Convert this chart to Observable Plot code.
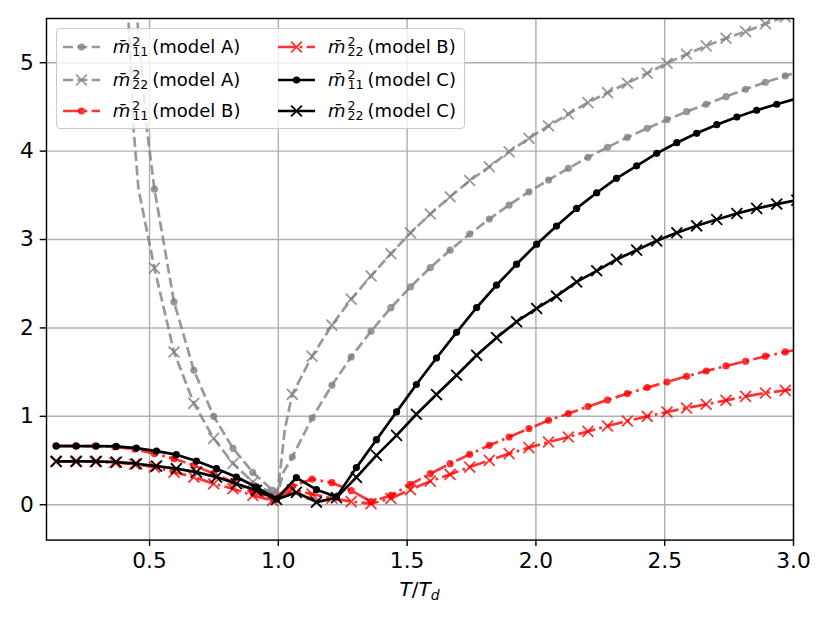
<!DOCTYPE html>
<html>
<head>
<meta charset="utf-8">
<script src="https://cdn.jsdelivr.net/npm/d3@7"></script>
<script src="https://cdn.jsdelivr.net/npm/@observablehq/plot@0.6"></script>
<style>
  body { margin: 0; background: #fff; }
  #wrap { position: relative; width: 830px; height: 623px; font-family: "DejaVu Sans", sans-serif; color: #000; }
  #legend { position: absolute; left: 56px; top: 28px; width: 409px; height: 101px; box-sizing: border-box;
            border: 1px solid #cccccc; border-radius: 4px; background: rgba(255,255,255,0.8); }
  .entry { position: absolute; height: 24px; display: flex; align-items: center; font-size: 18px; white-space: nowrap; }
  .entry svg { flex: none; }
  .lab { margin-left: 13px; line-height: 18px; }
  .mi { font-style: italic; }
  .ss { display: inline-block; font-size: 12.6px; line-height: 10px; vertical-align: -3.3px; margin: 0 4px 0 2px; white-space: pre; }
  #xlabel { position: absolute; left: 319.5px; width: 200px; top: 579px; text-align: center; font-size: 20px; line-height: 20px; }
  #xlabel sub { font-size: 14px; vertical-align: -3.5px; line-height: 0; }
</style>
</head>
<body>
<div id="wrap"></div>
<script>
// ---------- data ----------
// temperature grid of model C (T/Td)
const xC = [0.138, 0.216, 0.293, 0.371, 0.449, 0.527, 0.604, 0.682, 0.760, 0.837, 0.915, 0.993,
            1.070, 1.148, 1.226, 1.303, 1.381, 1.459, 1.536, 1.614, 1.692, 1.770, 1.847, 1.925,
            2.003, 2.080, 2.158, 2.236, 2.313, 2.391, 2.469, 2.547, 2.624, 2.702, 2.780, 2.857,
            2.935, 3.013];
// temperature grid of models A and B (T/Td)
const xAB = [0.136, 0.213, 0.289, 0.365, 0.442, 0.519, 0.595, 0.672, 0.749, 0.824, 0.901, 0.978,
             1.054, 1.131, 1.208, 1.283, 1.360, 1.437, 1.513, 1.590, 1.667, 1.743, 1.819, 1.896,
             1.973, 2.049, 2.126, 2.202, 2.278, 2.355, 2.432, 2.509, 2.585, 2.661, 2.738, 2.814,
             2.891, 2.968, 3.044];
// model A is only marked from T/Td ~ 0.52 upward
const xA = [0.519, 0.595, 0.672, 0.749, 0.824, 0.901, 0.978,
            1.054, 1.131, 1.208, 1.283, 1.360, 1.437, 1.513, 1.590, 1.667, 1.743, 1.819, 1.896,
            1.973, 2.049, 2.126, 2.202, 2.278, 2.355, 2.432, 2.509, 2.585, 2.661, 2.738, 2.814,
            2.891, 2.968, 3.044];
const a11 = [3.57, 2.294, 1.521, 1.0, 0.638, 0.366, 0.162,
             0.539, 0.981, 1.351, 1.672, 1.963, 2.229, 2.464, 2.682, 2.880, 3.062, 3.231, 3.390,
             3.540, 3.673, 3.805, 3.930, 4.043, 4.156, 4.258, 4.356, 4.446, 4.530, 4.616, 4.700,
             4.779, 4.851, 4.92];
const a22 = [2.676, 1.728, 1.147, 0.751, 0.468, 0.256, 0.12,
             1.249, 1.680, 2.031, 2.326, 2.589, 2.839, 3.075, 3.288, 3.484, 3.667, 3.823, 3.993,
             4.145, 4.284, 4.420, 4.548, 4.661, 4.768, 4.881, 4.994, 5.096, 5.190, 5.277, 5.352,
             5.44, 5.52, 5.60];
const a11CurveX = [0.440, 0.452, 0.491, 0.995, 1.020];
const a11CurveY = [6.10, 5.50, 4.22, 0.10, 0.37];
const a22CurveX = [0.410, 0.418, 0.439, 0.457, 0.995, 1.010, 1.025];
const a22CurveY = [6.10, 5.50, 4.22, 3.57, 0.10, 0.45, 0.85];

const b11 = [0.665, 0.665, 0.663, 0.655, 0.630, 0.578, 0.521, 0.445, 0.351, 0.256, 0.143, 0.068,
             0.21, 0.29, 0.25, 0.16, 0.035, 0.105, 0.230, 0.351, 0.464, 0.570, 0.672, 0.766,
             0.861, 0.955, 1.031, 1.110, 1.185, 1.257, 1.325, 1.388, 1.453, 1.513, 1.570, 1.623,
             1.680, 1.728, 1.775];
const b22 = [0.490, 0.490, 0.488, 0.478, 0.458, 0.426, 0.369, 0.313, 0.238, 0.181, 0.105, 0.049,
             0.17, 0.12, 0.075, 0.035, 0.012, 0.07, 0.170, 0.267, 0.343, 0.426, 0.502, 0.578,
             0.646, 0.709, 0.766, 0.830, 0.890, 0.947, 1.0, 1.049, 1.094, 1.136, 1.181, 1.226,
             1.264, 1.294, 1.32];

const c11 = [0.664, 0.664, 0.664, 0.660, 0.641, 0.607, 0.566, 0.494, 0.408, 0.313, 0.200, 0.065,
             0.306, 0.17, 0.09, 0.42, 0.736, 1.05, 1.36, 1.66, 1.95, 2.231, 2.483, 2.721,
             2.947, 3.152, 3.352, 3.529, 3.692, 3.834, 3.975, 4.095, 4.201, 4.299, 4.386, 4.462,
             4.530, 4.595];
const c22 = [0.490, 0.490, 0.490, 0.482, 0.464, 0.437, 0.408, 0.369, 0.313, 0.238, 0.162, 0.06,
             0.14, 0.03, 0.08, 0.31, 0.558, 0.785, 1.023, 1.246, 1.464, 1.69, 1.89, 2.07,
             2.22, 2.359, 2.521, 2.646, 2.775, 2.880, 2.985, 3.076, 3.155, 3.227, 3.295, 3.352,
             3.401, 3.445];

const xTicks = [0.5, 1.0, 1.5, 2.0, 2.5, 3.0];
const xTickLabels = ["0.5", "1.0", "1.5", "2.0", "2.5", "3.0"];
const yTicks = [0, 1, 2, 3, 4, 5];
const yTickLabels = ["0", "1", "2", "3", "4", "5"];

const seriesSubs = ["11", "22", "11", "22", "11", "22"];
const seriesModels = ["A", "A", "B", "B", "C", "C"];

// ---------- build ----------
const pts = (xs, ys) => xs.map((x, i) => ({x, y: ys[i]}));
const merged = (a, b) => a.concat(b).sort((p, q) => p.x - q.x);

const series = [
  {marks: pts(xA, a11), line: merged(pts(xA, a11), pts(a11CurveX, a11CurveY))},
  {marks: pts(xA, a22), line: merged(pts(xA, a22), pts(a22CurveX, a22CurveY))},
  {marks: pts(xAB, b11)}, {marks: pts(xAB, b22)},
  {marks: pts(xC, c11)}, {marks: pts(xC, c22)}
];
const DASHED = "10,4.3", DASHDOT = "17.3,4.3,2.7,4.3";
const styles = [
  {color: "gray", op: 0.8, dash: DASHED, sym: "dot"},
  {color: "gray", op: 0.8, dash: DASHED, sym: "x"},
  {color: "red", op: 0.8, dash: DASHDOT, sym: "dot"},
  {color: "red", op: 0.8, dash: DASHDOT, sym: "x"},
  {color: "black", op: 1, dash: null, sym: "dot"},
  {color: "black", op: 1, dash: null, sym: "x"}
];

const marks = [
  Plot.gridX(xTicks, {stroke: "#b0b0b0", strokeOpacity: 1, strokeWidth: 1.44}),
  Plot.gridY(yTicks, {stroke: "#b0b0b0", strokeOpacity: 1, strokeWidth: 1.44})
];
series.forEach((s, i) => {
  const st = styles[i];
  marks.push(Plot.line(s.line || s.marks, {
    x: "x", y: "y", stroke: st.color, strokeOpacity: st.op, strokeWidth: 2.7,
    strokeDasharray: st.dash, strokeLinecap: "butt", strokeLinejoin: "round", clip: true
  }));
  if (st.sym === "dot") {
    marks.push(Plot.dot(s.marks, {x: "x", y: "y", r: 3.6, fill: st.color, fillOpacity: st.op, stroke: "none", clip: true}));
  } else {
    marks.push(Plot.dot(s.marks, {x: "x", y: "y", r: 5, symbol: "times", stroke: st.color, strokeOpacity: st.op, strokeWidth: 1.8, clip: true}));
  }
});
marks.push(
  Plot.frame({stroke: "black", strokeWidth: 1.44}),
  Plot.axisX({ticks: xTicks, tickFormat: d => xTickLabels[xTicks.indexOf(d)], tickSize: 6.3, tickPadding: 6.3,
              fontSize: 21.7, label: null, stroke: "black", strokeWidth: 1.44}),
  Plot.axisY({ticks: yTicks, tickFormat: d => yTickLabels[yTicks.indexOf(d)], tickSize: 6.3, tickPadding: 6.3,
              fontSize: 21.7, label: null, stroke: "black", strokeWidth: 1.44})
);

const chart = Plot.plot({
  width: 830, height: 623,
  marginLeft: 46, marginRight: 37, marginTop: 18, marginBottom: 83.4,
  x: {domain: [0.1, 3.0]},
  y: {domain: [-0.4, 5.5]},
  style: {fontFamily: "DejaVu Sans", fontSize: "18px", color: "black", background: "white", overflow: "visible"},
  marks
});
const wrap = document.getElementById("wrap");
wrap.appendChild(chart);

// ---------- legend ----------
const legend = document.createElement("div");
legend.id = "legend";
const rowTops = [6.4, 39, 70.4];
const colLefts = [5.7, 221];
function handle(st) {
  const mk = st.sym === "dot"
    ? `<circle cx="18.5" cy="12" r="3.6" fill="${st.color}" fill-opacity="${st.op}"/>`
    : `<path d="M13.1,6.6L23.9,17.4M13.1,17.4L23.9,6.6" stroke="${st.color}" stroke-opacity="${st.op}" stroke-width="1.8"/>`;
  return `<svg width="37" height="24"><line x1="0" y1="12" x2="37" y2="12" stroke="${st.color}" stroke-opacity="${st.op}" stroke-width="2.7" ${st.dash ? `stroke-dasharray="${st.dash}"` : ""}/>${mk}</svg>`;
}
for (let i = 0; i < 6; i++) {
  const col = Math.floor(i / 3), row = i % 3;
  const e = document.createElement("div");
  e.className = "entry";
  e.style.left = colLefts[col] + "px";
  e.style.top = rowTops[row] + "px";
  e.innerHTML = handle(styles[i]) +
    `<span class="lab"><span class="mi">m&#772;</span><span class="ss">2\n${seriesSubs[i]}</span>(model ${seriesModels[i]})</span>`;
  legend.appendChild(e);
}
wrap.appendChild(legend);

// ---------- x label ----------
const xl = document.createElement("div");
xl.id = "xlabel";
xl.innerHTML = `<i>T</i>/<i>T</i><sub><i>d</i></sub>`;
wrap.appendChild(xl);
</script>
</body>
</html>
